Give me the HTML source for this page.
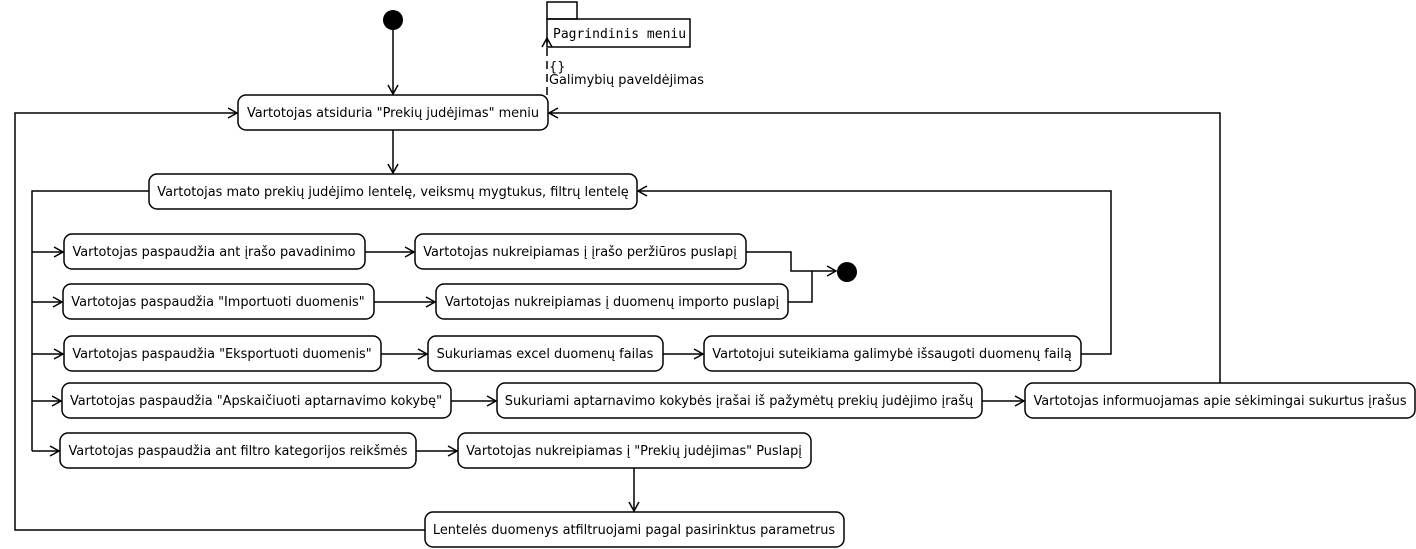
<!DOCTYPE html>
<html><head><meta charset="utf-8"><style>body{margin:0;background:#fff}svg{display:block}text{font-family:"DejaVu Sans","Liberation Sans",sans-serif;font-size:12.9px;fill:#000}</style></head><body>
<svg width="1416" height="549" viewBox="0 0 1416 549">
<defs><marker id="a" markerWidth="12" markerHeight="12" refX="10" refY="6" orient="auto" markerUnits="userSpaceOnUse"><path d="M1,1 L10,6 L1,11" fill="none" stroke="#000" stroke-width="1.5"/></marker></defs>
<g fill="none" stroke="#000" stroke-width="1.5">
<rect x="238" y="95" width="310" height="35" rx="8"/>
<rect x="149" y="174" width="488" height="35" rx="8"/>
<rect x="64" y="234" width="301" height="35" rx="8"/>
<rect x="415" y="234" width="331" height="35" rx="8"/>
<rect x="63" y="284" width="311" height="35" rx="8"/>
<rect x="436" y="284" width="352" height="35" rx="8"/>
<rect x="64" y="336" width="317" height="35" rx="8"/>
<rect x="428" y="336" width="235" height="35" rx="8"/>
<rect x="704" y="336" width="377" height="35" rx="8"/>
<rect x="62" y="383" width="389" height="35" rx="8"/>
<rect x="497" y="383" width="485" height="35" rx="8"/>
<rect x="1025" y="383" width="390" height="35" rx="8"/>
<rect x="60" y="433" width="356" height="35" rx="8"/>
<rect x="458" y="433" width="353" height="35" rx="8"/>
<rect x="425" y="512" width="419" height="35" rx="8"/>
<rect x="547" y="2" width="30" height="17"/>
<rect x="547" y="19" width="143" height="28"/>
<path d="M393,28 V94" marker-end="url(#a)"/>
<path d="M547,95 V38" stroke-dasharray="8,5" marker-end="url(#a)"/>
<path d="M393,130 V173" marker-end="url(#a)"/>
<path d="M149,191 H32 V451"/>
<path d="M32,252 H63" marker-end="url(#a)"/>
<path d="M32,302 H62" marker-end="url(#a)"/>
<path d="M32,354 H63" marker-end="url(#a)"/>
<path d="M32,401 H61" marker-end="url(#a)"/>
<path d="M32,451 H59" marker-end="url(#a)"/>
<path d="M425,530 H15 V113 H237" marker-end="url(#a)"/>
<path d="M365,252 H414" marker-end="url(#a)"/>
<path d="M374,302 H435" marker-end="url(#a)"/>
<path d="M381,354 H427" marker-end="url(#a)"/>
<path d="M663,354 H703" marker-end="url(#a)"/>
<path d="M451,401 H496" marker-end="url(#a)"/>
<path d="M982,401 H1024" marker-end="url(#a)"/>
<path d="M416,451 H457" marker-end="url(#a)"/>
<path d="M634,468 V511" marker-end="url(#a)"/>
<path d="M746,252 H791 V271 H836" marker-end="url(#a)"/>
<path d="M788,302 H812 V271"/>
<path d="M1081,354 H1111 V191 H638" marker-end="url(#a)"/>
<path d="M1220,383 V113 H549" marker-end="url(#a)"/>
</g>
<circle cx="393" cy="20" r="10"/>
<circle cx="847" cy="272" r="10"/>
<text x="553" y="38" style="font-family:'DejaVu Sans Mono','Liberation Mono',monospace;font-size:13px">Pagrindinis meniu</text>
<text x="549" y="71">{}</text>
<text x="549" y="84">Galimybių paveldėjimas</text>
<g text-anchor="middle">
<text x="393" y="117">Vartotojas atsiduria "Prekių judėjimas" meniu</text>
<text x="393" y="196">Vartotojas mato prekių judėjimo lentelę, veiksmų mygtukus, filtrų lentelę</text>
<text x="214" y="256">Vartotojas paspaudžia ant įrašo pavadinimo</text>
<text x="580" y="256">Vartotojas nukreipiamas į įrašo peržiūros puslapį</text>
<text x="218" y="306">Vartotojas paspaudžia "Importuoti duomenis"</text>
<text x="612" y="306">Vartotojas nukreipiamas į duomenų importo puslapį</text>
<text x="222" y="358">Vartotojas paspaudžia "Eksportuoti duomenis"</text>
<text x="545" y="358">Sukuriamas excel duomenų failas</text>
<text x="892" y="358">Vartotojui suteikiama galimybė išsaugoti duomenų failą</text>
<text x="256" y="405">Vartotojas paspaudžia "Apskaičiuoti aptarnavimo kokybę"</text>
<text x="739" y="405">Sukuriami aptarnavimo kokybės įrašai iš pažymėtų prekių judėjimo įrašų</text>
<text x="1220" y="405">Vartotojas informuojamas apie sėkimingai sukurtus įrašus</text>
<text x="238" y="455">Vartotojas paspaudžia ant filtro kategorijos reikšmės</text>
<text x="634" y="455">Vartotojas nukreipiamas į "Prekių judėjimas" Puslapį</text>
<text x="634" y="534">Lentelės duomenys atfiltruojami pagal pasirinktus parametrus</text>
</g>
</svg>
</body></html>
